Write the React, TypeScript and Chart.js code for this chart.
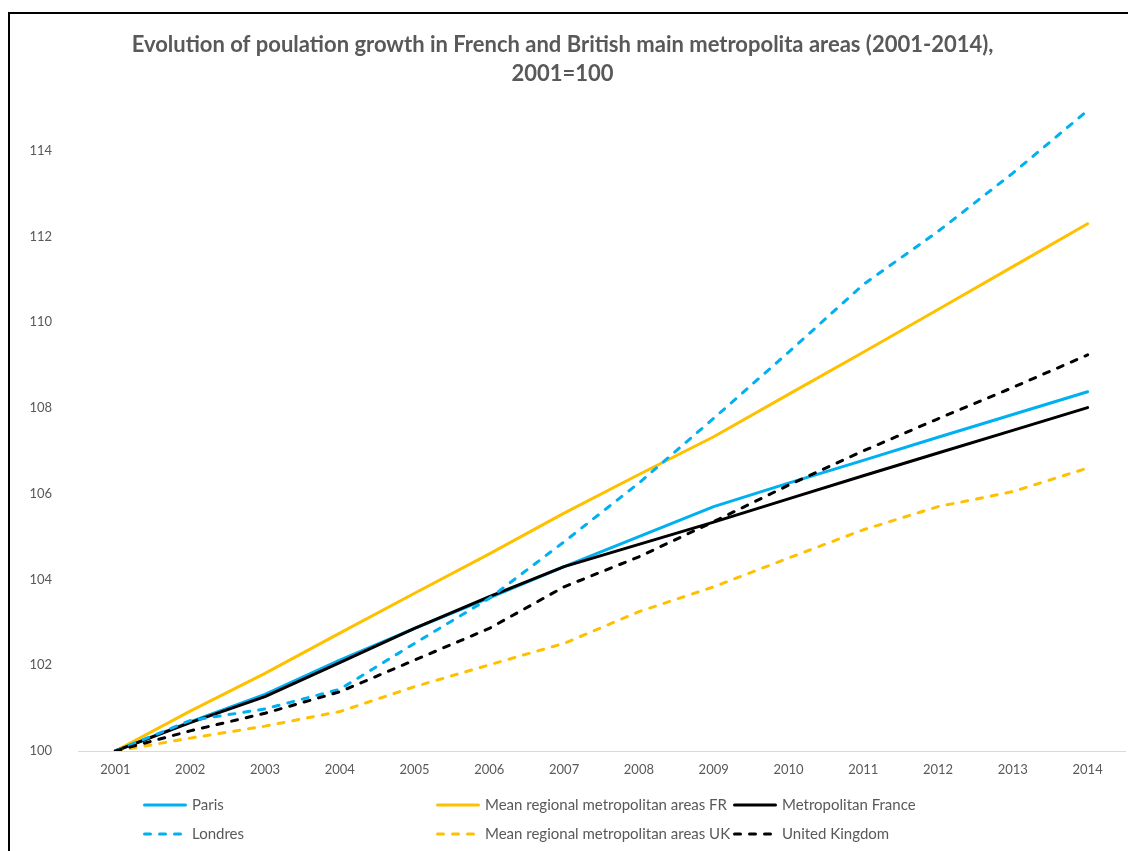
import React, { useEffect, useRef } from 'react';
import { Chart, registerables } from 'chart.js';

Chart.register(...registerables);

// ---- data ----
const years = ['2001', '2002', '2003', '2004', '2005', '2006', '2007', '2008', '2009', '2010', '2011', '2012', '2013', '2014'];
const paris = [100, 100.68, 101.32, 102.12, 102.86, 103.57, 104.3, 105.0, 105.7, 106.25, 106.78, 107.32, 107.85, 108.38];
const meanRegionalFR = [100, 100.93, 101.81, 102.75, 103.68, 104.6, 105.55, 106.45, 107.33, 108.32, 109.3, 110.3, 111.3, 112.3];
const metropolitanFrance = [100, 100.66, 101.27, 102.06, 102.86, 103.6, 104.3, 104.82, 105.34, 105.88, 106.42, 106.95, 107.48, 108.01];
const londres = [100, 100.71, 100.98, 101.44, 102.51, 103.56, 104.88, 106.25, 107.76, 109.3, 110.88, 112.12, 113.48, 114.94];
const meanRegionalUK = [100, 100.3, 100.58, 100.92, 101.5, 102.01, 102.51, 103.25, 103.83, 104.5, 105.16, 105.7, 106.05, 106.6];
const unitedKingdom = [100, 100.47, 100.88, 101.38, 102.12, 102.86, 103.83, 104.53, 105.35, 106.2, 107.0, 107.75, 108.48, 109.24];
const yTicks = [100, 102, 104, 106, 108, 110, 112, 114];
const titleLines = [
  'Evolution of poulation growth in French and British main metropolita areas (2001-2014),',
  '2001=100',
];
const seriesNames = [
  'Paris',
  'Mean regional metropolitan areas FR',
  'Metropolitan France',
  'Londres',
  'Mean regional metropolitan areas UK',
  'United Kingdom',
];

const BLUE = '#00B0F0';
const ORANGE = '#FFC000';
const BLACK = '#000000';
const TEXT = '#595959';
const FONT = 'Lato, "Open Sans", "DejaVu Sans", sans-serif';
const DASH = [6, 9];

const legendPlugin = {
  id: 'excelLegend',
  afterDraw(chart: any) {
    const ctx = chart.ctx;
    const cols = [143, 436, 733];
    const rows = [805, 834];
    const sampleW = 44;
    ctx.save();
    chart.data.datasets.forEach((ds: any, i: number) => {
      const col = i % 3;
      const row = Math.floor(i / 3);
      const x = cols[col];
      const y = rows[row];
      ctx.beginPath();
      ctx.lineWidth = 3;
      ctx.strokeStyle = ds.borderColor;
      ctx.lineCap = 'round';
      ctx.setLineDash(ds.borderDash || []);
      ctx.moveTo(x + 1.5, y);
      ctx.lineTo(x + sampleW - 1.5, y);
      ctx.stroke();
      ctx.setLineDash([]);
      ctx.fillStyle = TEXT;
      ctx.font = `15px ${FONT}`;
      ctx.textAlign = 'left';
      ctx.textBaseline = 'middle';
      ctx.fillText(ds.label, x + sampleW + 5, y);
    });
    ctx.restore();
  },
};

const framePlugin = {
  id: 'frame',
  afterDraw(chart: any) {
    const ctx = chart.ctx;
    ctx.save();
    ctx.beginPath();
    ctx.lineWidth = 2;
    ctx.strokeStyle = '#000000';
    ctx.moveTo(9, chart.height + 5);
    ctx.lineTo(9, 13);
    ctx.lineTo(chart.width + 5, 13);
    ctx.stroke();
    ctx.restore();
  },
};

export default function App() {
  const ref = useRef<HTMLCanvasElement | null>(null);

  useEffect(() => {
    document.body.style.margin = '0';
    const canvas = ref.current;
    if (!canvas) return;
    const mk = (label: string, data: number[], color: string, dashed: boolean, order: number) => ({
      label,
      data,
      borderColor: color,
      backgroundColor: color,
      borderWidth: 3,
      borderDash: dashed ? DASH : [],
      borderCapStyle: 'round',
      borderJoinStyle: 'round',
      pointRadius: 0,
      pointHoverRadius: 0,
      tension: 0,
      fill: false,
      order,
    });
    const chart = new Chart(canvas, {
      type: 'line',
      data: {
        labels: years,
        datasets: [
          mk(seriesNames[0], paris, BLUE, false, 6),
          mk(seriesNames[1], meanRegionalFR, ORANGE, false, 5),
          mk(seriesNames[2], metropolitanFrance, BLACK, false, 4),
          mk(seriesNames[3], londres, BLUE, true, 3),
          mk(seriesNames[4], meanRegionalUK, ORANGE, true, 2),
          mk(seriesNames[5], unitedKingdom, BLACK, true, 1),
        ] as any,
      },
      options: {
        animation: false,
        responsive: false,
        maintainAspectRatio: false,
        layout: { padding: { left: 0, right: 3, top: 0, bottom: 72 } },
        plugins: {
          legend: { display: false },
          tooltip: { enabled: false },
          title: {
            display: true,
            text: titleLines,
            color: TEXT,
            font: { family: FONT, size: 22, weight: 'bold', lineHeight: 1.34 },
            padding: { top: 30, bottom: 19 },
          },
        },
        scales: {
          x: {
            type: 'category',
            offset: true,
            grid: { display: false, drawTicks: false },
            border: { display: true, color: '#D9D9D9', width: 1 },
            ticks: {
              color: TEXT,
              font: { family: FONT, size: 13 },
              padding: 11,
              maxRotation: 0,
              autoSkip: false,
            },
            afterFit: (s: any) => {
              s.height = 28;
            },
          },
          y: {
            min: 100,
            max: 115,
            grid: { display: false, drawTicks: false },
            border: { display: false },
            ticks: {
              color: TEXT,
              font: { family: FONT, size: 13 },
              padding: 26,
            },
            afterBuildTicks: (s: any) => {
              s.ticks = yTicks.map((v) => ({ value: v }));
            },
            afterFit: (s: any) => {
              s.width = 78;
            },
          },
        },
      } as any,
      plugins: [legendPlugin, framePlugin],
    });
    return () => chart.destroy();
  }, []);

  return (
    <div style={{ width: 1128, height: 851, background: '#ffffff' }}>
      <canvas ref={ref} width={1128} height={851} style={{ display: 'block' }} />
    </div>
  );
}
